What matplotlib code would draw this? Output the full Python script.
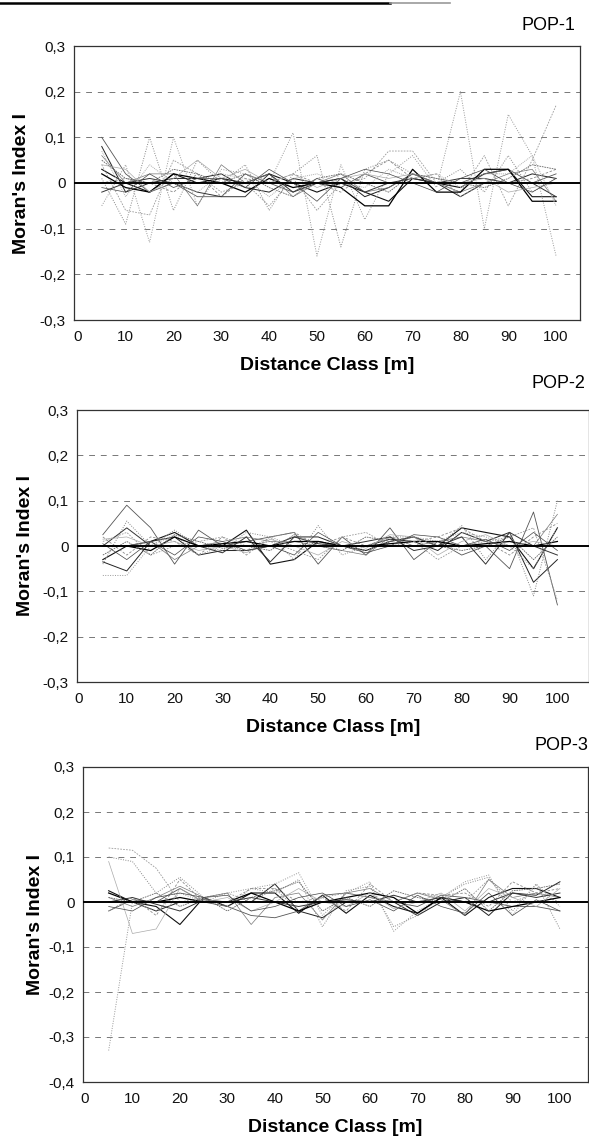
import matplotlib
matplotlib.use("Agg")
import matplotlib.pyplot as plt
from matplotlib.lines import Line2D

plt.rcParams['font.family'] = ['Liberation Sans', 'DejaVu Sans']

W, H = 589, 1138
DPI = 100

# ---------------- data ----------------
distance = [5, 10, 15, 20, 25, 30, 35, 40, 45, 50, 55, 60, 65, 70, 75, 80, 85, 90, 95, 100]

pop1 = [
    [0.03, 0.00, -0.02, 0.02, 0.00, 0.01, 0.00, 0.02, 0.00, -0.02, 0.00, -0.02, -0.04, 0.01, 0.00, -0.01, 0.02, 0.03, -0.03, -0.03],
    [0.08, -0.02, 0.00, 0.01, 0.01, 0.02, -0.01, -0.02, 0.01, 0.00, 0.01, -0.03, -0.01, 0.02, 0.00, -0.03, 0.00, 0.00, 0.02, 0.01],
    [0.10, 0.02, -0.02, 0.00, -0.03, -0.03, 0.02, 0.00, -0.02, 0.01, -0.01, 0.02, 0.00, 0.00, 0.00, 0.00, 0.02, 0.03, 0.00, 0.02],
    [0.01, -0.09, 0.10, -0.06, 0.05, 0.00, 0.04, -0.06, 0.02, 0.06, -0.14, 0.03, 0.05, 0.02, 0.00, 0.03, -0.02, 0.06, -0.02, 0.01],
    [-0.05, 0.04, -0.13, 0.10, -0.05, 0.03, 0.02, 0.00, 0.11, -0.16, 0.04, -0.08, 0.02, 0.06, -0.01, 0.20, -0.10, 0.15, 0.06, -0.16],
    [0.04, -0.06, -0.07, 0.05, 0.02, -0.02, 0.00, -0.05, 0.01, -0.06, 0.00, 0.01, 0.07, 0.07, 0.00, -0.02, 0.06, -0.05, 0.05, 0.17],
    [0.06, 0.00, 0.02, 0.02, -0.05, 0.04, 0.00, 0.02, -0.03, 0.00, 0.02, -0.02, -0.01, 0.02, 0.00, -0.02, 0.00, 0.02, 0.03, -0.04],
    [0.02, -0.01, -0.02, 0.02, 0.01, 0.00, -0.02, 0.01, -0.01, 0.00, -0.01, -0.05, -0.05, 0.03, -0.02, -0.02, 0.03, 0.03, -0.04, -0.04],
    [0.00, 0.01, 0.00, -0.02, 0.02, -0.03, 0.01, 0.00, 0.02, 0.00, -0.02, 0.02, 0.05, 0.01, 0.02, -0.03, 0.00, 0.00, 0.01, 0.03],
    [-0.02, 0.00, 0.01, 0.00, -0.02, -0.03, -0.03, 0.02, -0.02, 0.00, 0.01, -0.02, 0.00, 0.01, 0.00, 0.01, 0.01, 0.00, 0.00, -0.03],
    [0.04, 0.03, -0.02, 0.01, 0.05, 0.01, 0.03, 0.00, 0.02, -0.01, 0.01, 0.02, 0.01, 0.02, 0.01, 0.00, 0.01, -0.02, -0.01, 0.00],
    [0.05, 0.01, 0.00, 0.03, 0.02, 0.00, 0.02, -0.01, -0.03, 0.01, 0.02, 0.00, -0.02, 0.02, 0.01, 0.00, -0.01, 0.01, 0.04, 0.03],
    [-0.01, -0.02, 0.02, -0.01, 0.01, 0.01, -0.01, 0.03, 0.00, -0.04, 0.01, 0.03, 0.02, 0.00, -0.02, 0.01, 0.03, 0.00, -0.02, 0.01],
    [0.07, -0.03, 0.04, 0.00, -0.02, 0.02, 0.01, -0.03, 0.01, 0.02, 0.00, -0.01, 0.03, 0.01, 0.02, -0.01, 0.02, 0.02, 0.06, -0.05],
]

pop2 = [
    [-0.03, 0.00, 0.01, 0.03, 0.00, 0.00, 0.035, -0.04, -0.03, 0.01, 0.00, -0.01, 0.01, 0.02, 0.00, 0.04, 0.03, 0.02, -0.05, 0.04],
    [-0.035, -0.055, 0.01, 0.02, -0.02, -0.01, -0.01, 0.00, 0.02, 0.02, 0.00, 0.00, 0.015, 0.01, -0.01, 0.03, 0.01, 0.03, -0.08, -0.03],
    [0.025, 0.09, 0.04, -0.04, 0.035, 0.00, 0.01, 0.02, 0.03, -0.04, 0.02, -0.02, 0.04, -0.03, 0.01, -0.02, 0.00, -0.05, 0.075, -0.13],
    [-0.04, 0.055, 0.00, 0.035, 0.00, -0.01, 0.03, 0.02, -0.03, 0.045, -0.02, 0.00, 0.02, 0.02, 0.00, 0.045, -0.03, 0.03, -0.11, 0.10],
    [-0.065, -0.065, 0.00, 0.025, -0.02, 0.00, -0.01, 0.02, 0.00, 0.01, 0.00, -0.01, 0.01, 0.02, 0.01, 0.03, 0.02, 0.00, -0.05, 0.04],
    [0.01, 0.03, -0.02, 0.00, 0.01, 0.02, 0.00, 0.01, -0.01, -0.03, 0.02, 0.03, 0.00, 0.01, -0.03, 0.00, 0.01, 0.02, 0.04, -0.12],
    [0.00, 0.00, 0.01, -0.03, 0.00, 0.01, 0.02, 0.01, 0.01, 0.00, -0.01, -0.02, 0.02, 0.00, 0.01, 0.02, 0.01, 0.00, 0.00, 0.07],
    [0.00, 0.00, -0.01, 0.02, 0.00, 0.005, 0.01, 0.00, 0.01, 0.01, 0.00, 0.00, 0.005, 0.01, 0.01, 0.00, 0.005, 0.01, 0.00, 0.01],
    [0.02, -0.02, 0.02, 0.01, -0.02, 0.02, -0.02, 0.02, 0.03, 0.00, 0.02, 0.00, 0.02, 0.01, 0.02, 0.04, 0.01, -0.02, 0.02, 0.05],
    [0.00, 0.04, 0.00, 0.00, 0.00, -0.015, 0.02, -0.035, 0.02, 0.005, 0.00, 0.01, 0.02, -0.01, 0.00, 0.02, -0.04, 0.03, 0.00, -0.02],
    [0.015, 0.02, 0.00, 0.01, -0.01, 0.00, -0.015, 0.015, 0.00, -0.02, 0.01, -0.005, 0.025, 0.02, -0.02, 0.01, 0.025, 0.00, 0.01, 0.00],
    [-0.02, 0.01, -0.02, 0.025, 0.01, -0.005, 0.00, -0.01, 0.025, 0.00, -0.01, 0.02, 0.01, 0.02, 0.00, -0.01, 0.00, 0.02, -0.03, 0.02],
    [0.005, -0.03, 0.01, -0.02, 0.02, 0.01, -0.01, 0.00, -0.02, 0.03, 0.00, -0.015, 0.00, 0.025, 0.02, 0.00, 0.015, -0.01, 0.03, -0.01],
]

pop3 = [
    [0.025, 0.00, -0.01, -0.05, 0.01, -0.01, 0.02, 0.02, -0.025, 0.015, -0.025, 0.015, -0.01, -0.025, 0.01, -0.03, 0.01, 0.03, 0.03, 0.01],
    [0.00, 0.00, -0.02, 0.00, 0.00, 0.00, 0.00, 0.04, -0.02, -0.035, 0.00, 0.00, 0.00, -0.03, 0.00, 0.01, -0.03, 0.02, 0.015, 0.045],
    [-0.02, 0.005, 0.00, 0.03, 0.00, -0.01, -0.03, -0.035, -0.02, 0.015, 0.02, 0.01, 0.00, -0.01, 0.015, 0.01, 0.00, -0.01, -0.01, -0.02],
    [0.10, 0.09, 0.02, 0.055, 0.01, -0.01, 0.03, 0.02, 0.05, -0.055, 0.025, 0.035, -0.055, -0.03, 0.01, 0.04, 0.055, -0.02, 0.04, -0.06],
    [-0.33, 0.00, -0.02, 0.02, 0.00, 0.02, 0.03, 0.04, 0.065, -0.03, 0.02, 0.045, -0.065, -0.02, 0.01, 0.045, 0.06, -0.03, 0.04, -0.01],
    [0.12, 0.115, 0.075, 0.00, 0.01, 0.02, 0.00, 0.03, -0.02, 0.01, 0.02, 0.01, 0.00, 0.02, 0.01, 0.00, 0.05, 0.00, 0.02, 0.00],
    [0.01, -0.01, 0.01, 0.035, 0.01, 0.02, -0.05, 0.01, 0.02, -0.04, 0.02, 0.03, 0.00, 0.02, 0.005, -0.03, 0.05, 0.01, 0.02, 0.01],
    [0.02, 0.00, 0.00, 0.01, 0.00, 0.00, 0.02, 0.00, -0.02, 0.00, 0.01, 0.02, 0.01, -0.025, 0.01, 0.00, -0.02, -0.01, 0.00, 0.01],
    [-0.02, 0.01, -0.03, 0.05, 0.00, 0.00, 0.03, 0.03, 0.00, 0.01, -0.02, 0.04, 0.00, 0.02, 0.015, 0.02, -0.01, 0.045, 0.02, 0.03],
    [0.00, 0.01, -0.005, -0.02, 0.005, 0.00, 0.01, 0.00, -0.01, 0.00, 0.005, 0.00, 0.015, 0.00, 0.01, 0.00, 0.00, 0.02, 0.01, 0.02],
    [0.09, -0.07, -0.06, 0.03, 0.00, 0.01, -0.02, 0.00, 0.03, 0.00, -0.01, 0.02, -0.015, 0.00, 0.02, -0.02, 0.03, 0.01, -0.01, 0.03],
    [0.01, 0.00, 0.02, -0.01, 0.01, -0.02, 0.01, 0.025, 0.045, -0.02, 0.01, -0.01, 0.025, 0.01, 0.00, 0.03, -0.02, 0.025, 0.03, 0.04],
    [-0.01, -0.02, 0.01, 0.02, 0.01, 0.015, -0.02, -0.01, 0.01, 0.02, -0.01, 0.005, -0.02, 0.015, -0.01, -0.025, 0.02, -0.03, 0.005, -0.02],
]

panel_titles = ["POP-1", "POP-2", "POP-3"]
x_ticks = [0, 10, 20, 30, 40, 50, 60, 70, 80, 90, 100]
y_ticks_12 = [-0.3, -0.2, -0.1, 0, 0.1, 0.2, 0.3]
y_ticks_3 = [-0.4, -0.3, -0.2, -0.1, 0, 0.1, 0.2, 0.3]
grid_12 = [-0.2, -0.1, 0.1, 0.2]
grid_3 = [-0.3, -0.2, -0.1, 0.1, 0.2]

# line styles cycle (scan-like gray shades)
styles = [
    dict(color='#111111', ls='-', lw=0.8),
    dict(color='#222222', ls='-', lw=0.7),
    dict(color='#555555', ls='-', lw=0.6),
    dict(color='#888888', ls=(0, (1, 1.5)), lw=0.7),
    dict(color='#999999', ls=(0, (1, 1.5)), lw=0.7),
    dict(color='#9a9a9a', ls=(0, (2, 1.5)), lw=0.6),
    dict(color='#777777', ls='-', lw=0.5),
    dict(color='#000000', ls='-', lw=0.9),
    dict(color='#8a8a8a', ls=(0, (3, 2)), lw=0.6),
    dict(color='#333333', ls='-', lw=0.7),
    dict(color='#aaaaaa', ls='-', lw=0.5),
    dict(color='#666666', ls=(0, (2, 1)), lw=0.6),
    dict(color='#444444', ls='-', lw=0.5),
    dict(color='#b0b0b0', ls=(0, (1, 1)), lw=0.7),
]

fig = plt.figure(figsize=(W / DPI, H / DPI), dpi=DPI)
fig.patch.set_facecolor('white')

def px_axes(left, top, right, bottom):
    return fig.add_axes([left / W, 1 - bottom / H, (right - left) / W, (bottom - top) / H])

layouts = [
    dict(box=(74, 46, 580, 320), xlim=(-0.8, 105.0), ylim=(-0.3, 0.3), yt=y_ticks_12, grid=grid_12,
         data=pop1, title_xy=(575, 25), xlab_y=366, ylab_x=22),
    dict(box=(77, 410, 589, 682), xlim=(-0.4, 106.6), ylim=(-0.3, 0.3), yt=y_ticks_12, grid=grid_12,
         data=pop2, title_xy=(585, 384), xlab_y=727, ylab_x=25),
    dict(box=(83, 767, 588, 1082), xlim=(-0.4, 105.9), ylim=(-0.4, 0.3), yt=y_ticks_3, grid=grid_3,
         data=pop3, title_xy=(588, 745), xlab_y=1127, ylab_x=35),
]

for i, L in enumerate(layouts):
    left, top, right, bottom = L['box']
    ax = px_axes(left, top, right, bottom)
    ax.set_xlim(*L['xlim'])
    ax.set_ylim(*L['ylim'])
    for g in L['grid']:
        ax.axhline(g, color='#777777', lw=0.7, ls=(0, (6, 6)), zorder=1)
    for j, series in enumerate(L['data']):
        st = styles[j % len(styles)]
        ax.plot(distance, series, color=st['color'], ls=st['ls'], lw=st['lw'], zorder=2)
    ax.axhline(0, color='black', lw=1.4, zorder=3)
    ax.set_xticks(x_ticks)
    ax.set_xticklabels([str(t) for t in x_ticks])
    ax.set_yticks(L['yt'])
    ax.set_yticklabels([('0' if abs(t) < 1e-9 else f"{t:.1f}".replace('.', ',')) for t in L['yt']])
    ax.tick_params(length=0, labelsize=11, colors='#111111')
    ax.tick_params(axis='x', pad=7)
    ax.tick_params(axis='y', pad=6)
    for s in ax.spines.values():
        s.set_color('#333333')
        s.set_linewidth(0.9)
    ax.set_xlabel("Distance Class [m]", fontsize=14, fontweight='bold')
    ax.xaxis.label.set_va('center')
    ax.xaxis.set_label_coords(0.5, -(L['xlab_y'] - bottom) / (bottom - top))
    ax.set_ylabel("Moran's Index I", fontsize=14, fontweight='bold')
    ax.yaxis.label.set_va('center')
    ax.yaxis.set_label_coords(-(left - L['ylab_x']) / (right - left), 0.5)
    tx, ty = L['title_xy']
    fig.text(tx / W, 1 - ty / H, panel_titles[i], ha='right', va='center', fontsize=13)

# scan artifact rule at the top
fig.add_artist(Line2D([0, 390 / W], [1 - 3 / H, 1 - 3 / H], color='black', lw=1.8))
fig.add_artist(Line2D([390 / W, 450 / W], [1 - 3 / H, 1 - 3 / H], color='#999999', lw=1.2))

fig.savefig("out.png", dpi=DPI)
